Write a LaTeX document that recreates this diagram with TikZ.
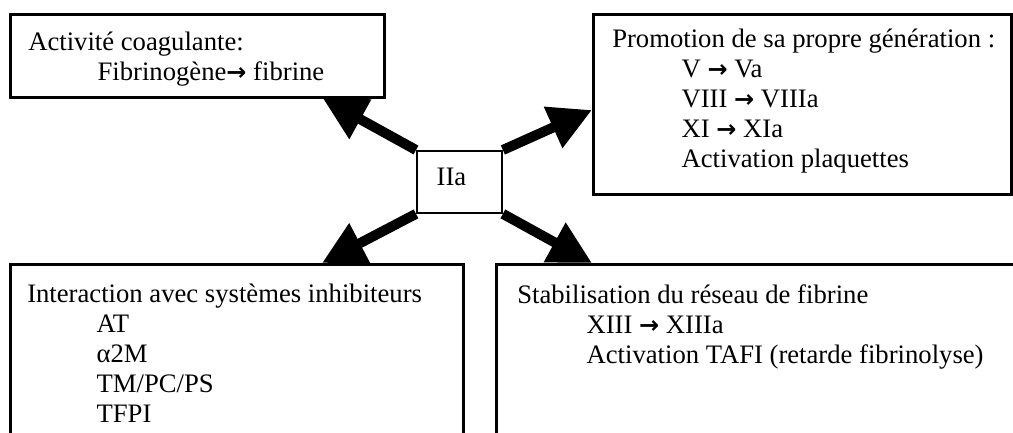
\documentclass[tikz,border=0pt]{standalone}
\usepackage{fontspec}
\setmainfont{Liberation Serif}
\newfontfamily\flechefont{DejaVu Sans}
\usepackage{tikz}
\usetikzlibrary{calc}
\usetikzlibrary{positioning}
\usetikzlibrary{arrows.meta}

\newcommand{\fl}{{\flechefont\bfseries\fontsize{18}{18}\selectfont →}}
\newcommand{\ind}{\hspace*{52pt}}

\begin{document}
\begin{tikzpicture}[x=0.75pt,y=-0.75pt,>={Triangle[length=32pt,width=32pt]}]
  \tikzstyle{every node}=[font=\fontsize{20}{22.5}\selectfont]
  \tikzstyle{cadre}=[draw,line width=2pt,rectangle,anchor=north west,inner sep=0pt]
  \tikzstyle{texte}=[align=left,anchor=north west,inner sep=0pt]
  \tikzstyle{fleche}=[->,line width=7.5pt]

  \clip (0,0) rectangle (1013,432);

  % cadres
  \node[cadre,minimum width=280.5pt,minimum height=62.25pt] (A) at (9,13) {};
  \node[cadre,minimum width=313.5pt,minimum height=135pt]   (B) at (592,13) {};
  \node[cadre,minimum width=339.75pt,minimum height=150pt]  (C) at (9,263) {};
  \node[cadre,minimum width=401.25pt,minimum height=150pt]  (D) at (495,263) {};
  \node[cadre,line width=1.4pt,minimum width=63.75pt,minimum height=46.5pt,text depth=8pt] (IIa) at (416,150) {IIa\hspace*{12pt}};

  % textes
  \node[texte] (tA) at ($(A.north west)+(19,19)$)
    {Activité coagulante:\\ \ind Fibrinogène\fl{} fibrine};
  \node[texte] (tB) at ($(B.north west)+(20,16)$)
    {Promotion de sa propre génération :\\ \ind V \fl{} Va\\ \ind VIII \fl{} VIIIa\\
     \ind XI \fl{} XIa\\ \ind Activation plaquettes};
  \node[texte] (tC) at ($(C.north west)+(18,21)$)
    {Interaction avec systèmes inhibiteurs\\ \ind AT\\ \ind α2M\\ \ind TM/PC/PS\\ \ind TFPI};
  \node[texte] (tD) at ($(D.north west)+(22,21)$)
    {Stabilisation du réseau de fibrine\\ \ind XIII \fl{} XIIIa\\
     \ind Activation TAFI (retarde fibrinolyse)};

  % fleches
  \draw[fleche] (IIa.north west) -- ($(A.south west)+(314,0)$);
  \draw[fleche] (IIa.north east) -- ($(B.north west)+(0,97)$);
  \draw[fleche] (IIa.south west) -- ($(C.north west)+(313,0)$);
  \draw[fleche] (IIa.south east) -- ($(D.north west)+(97,0)$);
\end{tikzpicture}
\end{document}
